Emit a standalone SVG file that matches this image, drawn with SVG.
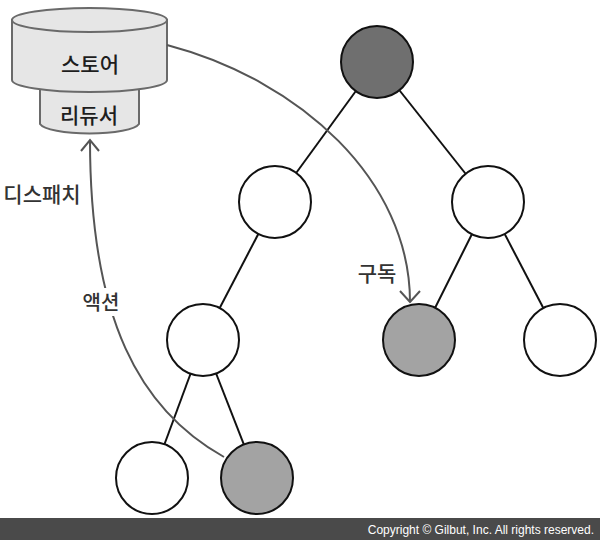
<svg xmlns="http://www.w3.org/2000/svg" width="600" height="540" viewBox="0 0 600 540">
<style>
.edge{stroke:#111;stroke-width:2;fill:none}
.node{stroke:#111;stroke-width:2}
.white{fill:#fff}
.gray{fill:#a3a3a3}
.dark{fill:#6f6f6f}
.flow{stroke:#555;stroke-width:2;fill:none}
.db{fill:#e6e6e6;stroke:#6a6a6a;stroke-width:2}
.lbl{font-family:"Noto Sans CJK KR","Noto Sans",sans-serif;fill:#333;text-anchor:middle;font-weight:500}
.dbl{fill:#1e1e1e}
</style>
<rect width="600" height="540" fill="#fff"/>
<g id="edges">
<line class="edge" x1="377" y1="62" x2="275" y2="202"/>
<line class="edge" x1="377" y1="62" x2="488" y2="202"/>
<line class="edge" x1="275" y1="202" x2="203" y2="340"/>
<line class="edge" x1="488" y1="202" x2="419" y2="340"/>
<line class="edge" x1="488" y1="202" x2="560" y2="340"/>
<line class="edge" x1="203" y1="340" x2="152" y2="478"/>
<line class="edge" x1="203" y1="340" x2="257" y2="478"/>
</g>
<g id="reducer">
<path class="db" d="M40,85 L40,124 A50,11 0 0 0 139,124 L139,85 Z"/>
<text class="lbl dbl" x="89" y="123" font-size="21">리듀서</text>
</g>
<g id="store">
<path class="db" d="M12,20 L12,80 A77.5,12 0 0 0 167,80 L167,20 Z"/>
<ellipse class="db" cx="89.5" cy="20" rx="77.5" ry="12"/>
<text class="lbl dbl" x="90" y="72" font-size="21">스토어</text>
</g>
<g id="n-root"><circle class="node dark" cx="377" cy="62" r="36"/></g>
<g id="n-l1"><circle class="node white" cx="275" cy="202" r="36"/></g>
<g id="n-r1"><circle class="node white" cx="488" cy="202" r="36"/></g>
<g id="n-l2"><circle class="node white" cx="203" cy="340" r="36"/></g>
<g id="n-m2"><circle class="node gray" cx="419" cy="340" r="36"/></g>
<g id="n-r2"><circle class="node white" cx="560" cy="340" r="36"/></g>
<g id="n-l3"><circle class="node white" cx="152" cy="478" r="36"/></g>
<g id="n-r3"><circle class="node gray" cx="257" cy="478" r="36"/></g>
<g id="connectors">
<path class="flow" d="M167,45 C300,80 410,180 410,302"/>
<polyline class="flow" points="400,291 410,302 420,291"/>
<path class="flow" d="M224,457 C140,410 90,320 90,140"/>
<polyline class="flow" points="81,151 90,140 99,151"/>
<rect x="80" y="288" width="44" height="28" fill="#fff"/>
<text class="lbl" x="101" y="310" font-size="20">액션</text>
<text class="lbl" x="377" y="281" font-size="21">구독</text>
<text class="lbl" x="42" y="202" font-size="21" fill="#444">디스패치</text>
</g>
<rect x="0" y="518" width="600" height="22" fill="#4a4a4a"/>
<text x="594" y="534" font-family="Liberation Sans, Arial, sans-serif" font-size="12" fill="#fff" text-anchor="end">Copyright © Gilbut, Inc. All rights reserved.</text>
</svg>
